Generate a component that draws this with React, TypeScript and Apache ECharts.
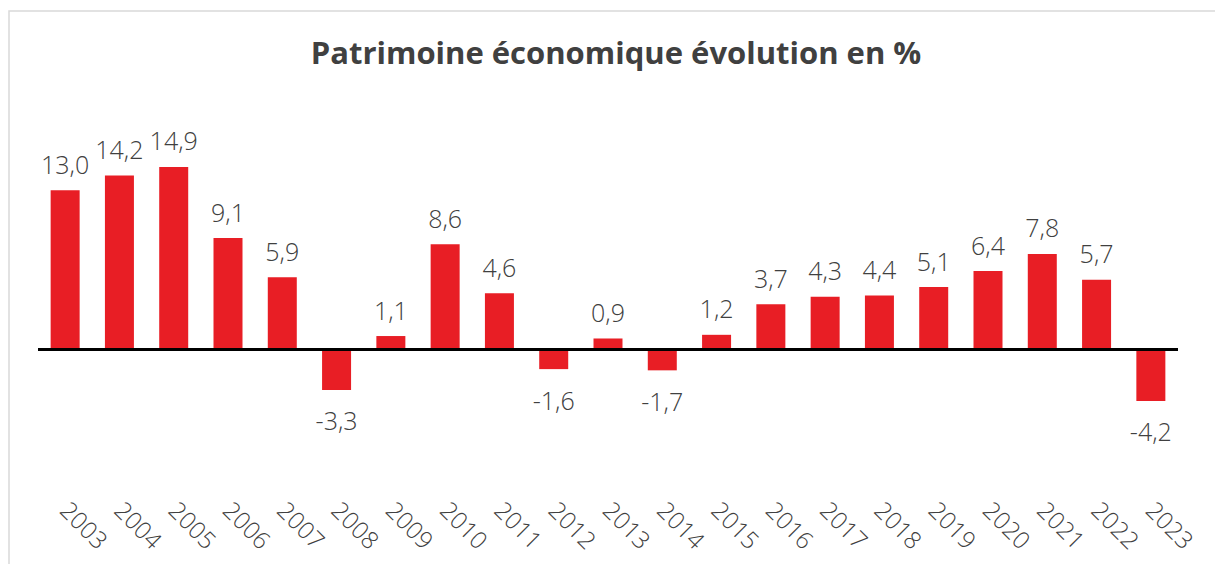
import React, { useEffect, useRef } from "react";
import * as echarts from "echarts";

const years = ["2003","2004","2005","2006","2007","2008","2009","2010","2011","2012","2013","2014","2015","2016","2017","2018","2019","2020","2021","2022","2023"];
const values = [13.0, 14.2, 14.9, 9.1, 5.9, -3.3, 1.1, 8.6, 4.6, -1.6, 0.9, -1.7, 1.2, 3.7, 4.3, 4.4, 5.1, 6.4, 7.8, 5.7, -4.2];
const titleText = "Patrimoine économique évolution en %";

const FONT = "'Open Sans', 'Noto Sans', sans-serif";
const TEXT = "#404040";
const RED = "#E81E25";

export default function App() {
  const ref = useRef<HTMLDivElement>(null);
  useEffect(() => {
    if (!ref.current) return;
    const chart = echarts.init(ref.current, undefined, { renderer: "svg" });
    const data = values.map((v) => ({
      value: v,
      label: { position: v < 0 ? "bottom" : "top", distance: v < 0 ? 18 : 14 },
    }));
    chart.setOption({
      animation: false,
      backgroundColor: "#ffffff",
      title: {
        text: titleText,
        left: 611,
        top: 31,
        textAlign: "center",
        textStyle: { fontFamily: FONT, fontSize: 31, fontWeight: "bold", color: TEXT },
      },
      graphic: [
        {
          type: "rect",
          shape: { x: 9, y: 11, width: 1400, height: 800 },
          style: { fill: "none", stroke: "#d9d9d9", lineWidth: 1.5 },
          silent: true,
          z: -1,
        },
      ],
      grid: { left: 38, right: 37, top: 153.5, height: 336.9 },
      xAxis: {
        type: "category",
        data: years,
        position: "bottom",
        axisLine: { show: false, onZero: false },
        axisTick: { show: false },
        axisLabel: {
          rotate: -45,
          margin: 15,
          interval: 0,
          fontFamily: FONT,
          fontSize: 24,
          fontWeight: 300,
          color: TEXT,
        },
      },
      yAxis: {
        type: "value",
        min: -11.5,
        max: 16,
        show: false,
        splitLine: { show: false },
      },
      series: [
        {
          type: "bar",
          data,
          barWidth: 29,
          itemStyle: { color: RED },
          label: {
            show: true,
            fontFamily: FONT,
            fontSize: 25,
            fontWeight: 300,
            color: TEXT,
            formatter: (p: any) => Number(p.value).toFixed(1).replace(".", ","),
          },
          markLine: {
            silent: true,
            symbol: "none",
            label: { show: false },
            lineStyle: { color: "#000000", width: 3, type: "solid" },
            data: [{ yAxis: 0 }],
          },
        },
      ],
    });
    return () => chart.dispose();
  }, []);
  return (
    <div
      ref={ref}
      style={{ position: "fixed", left: 0, top: 0, width: 1215, height: 564, background: "#fff" }}
    />
  );
}
